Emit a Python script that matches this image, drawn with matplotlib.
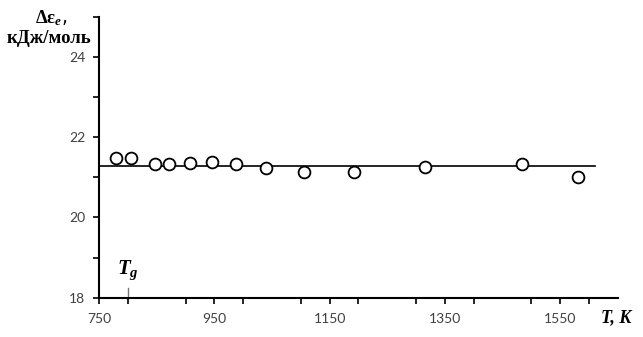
import matplotlib
matplotlib.use("Agg")
import matplotlib.pyplot as plt
from matplotlib.ticker import MultipleLocator

# data
temps = [780, 805, 847, 872, 907, 946, 988, 1040, 1105, 1192, 1315, 1483, 1580]
d_eps = [21.49, 21.48, 21.34, 21.34, 21.36, 21.38, 21.34, 21.23, 21.13, 21.14, 21.26, 21.34, 21.01]
fit_x = [750, 1610]
fit_y = [21.29, 21.29]
t_glass = 800

x_ticks = [750, 950, 1150, 1350, 1550]
y_ticks = [18, 20, 22, 24]

plt.rcParams['mathtext.fontset'] = 'custom'
plt.rcParams['mathtext.rm'] = 'Liberation Serif:bold'
plt.rcParams['mathtext.it'] = 'Liberation Serif:italic:bold'
plt.rcParams['mathtext.bf'] = 'Liberation Serif:bold'

fig = plt.figure(figsize=(6.43, 3.37), dpi=100)
ax = fig.add_axes([0.154, 0.1166, 0.807, 0.833])

ax.plot(fit_x, fit_y, color='black', lw=1.2)
ax.plot(temps, d_eps, 'o', mfc='white', mec='black', ms=8.5, mew=1.3)

ax.set_xlim(750, 1650)
ax.set_ylim(18, 25)
ax.set_xticks(x_ticks)
ax.set_yticks(y_ticks)
ax.xaxis.set_minor_locator(MultipleLocator(100))
ax.yaxis.set_minor_locator(MultipleLocator(1))
ax.tick_params(which='both', direction='out', width=1.2, color='black',
               labelsize=10, labelcolor='#404040', length=4)
for lab in ax.get_xticklabels() + ax.get_yticklabels():
    lab.set_family('Lato')
ax.tick_params(axis='x', pad=7)
ax.tick_params(axis='y', pad=6)

for s in ['top', 'right']:
    ax.spines[s].set_visible(False)
for s in ['left', 'bottom']:
    ax.spines[s].set_linewidth(1.5)

# T_g mark
ax.plot([t_glass, t_glass], [18.03, 18.25], color='#777777', lw=1)
ax.text(t_glass, 18.4, r'$T_g$', fontsize=15, ha='center', va='bottom')

fig.text(0.054, 0.945, r'$\mathrm{\Delta\varepsilon}_{e}$,', fontsize=13.5, ha='left', va='center')
fig.text(0.01, 0.887, 'кДж/моль', family='Liberation Serif', fontweight='bold',
         fontsize=13.5, ha='left', va='center')
fig.text(0.934, 0.058, 'T, K', family='Liberation Serif', fontweight='bold',
         style='italic', fontsize=13, ha='left', va='center')

fig.savefig('out.png', dpi=100)
